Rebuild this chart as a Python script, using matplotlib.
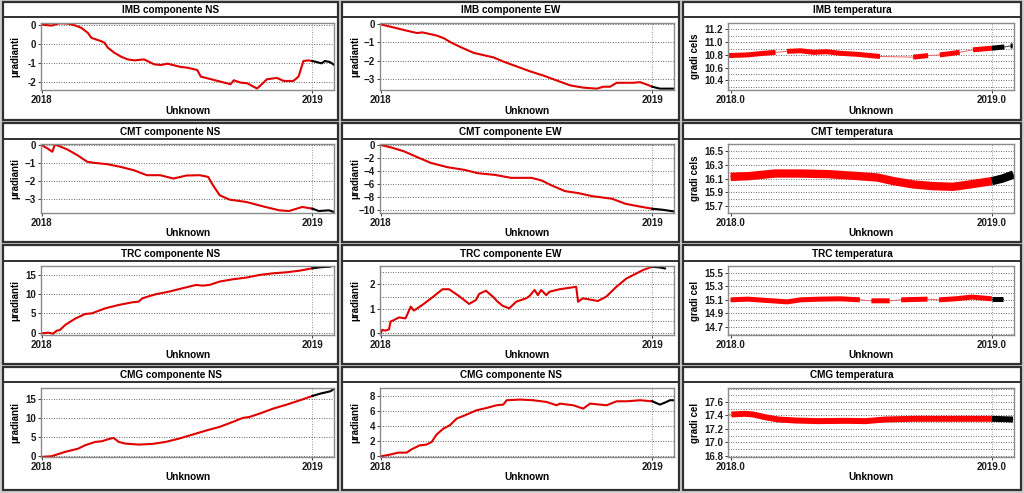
import numpy as np
import matplotlib
matplotlib.use('Agg')
import matplotlib.pyplot as plt
from matplotlib.patches import Rectangle
from matplotlib.lines import Line2D
from matplotlib import ticker

plt.rcParams['font.family'] = ['Liberation Sans', 'DejaVu Sans']
plt.rcParams['font.weight'] = 'bold'
nan = np.nan

# ---- data (years, values) ----
imb_ns_t = [2018.000, 2018.037, 2018.067, 2018.098, 2018.122, 2018.147, 2018.171, 2018.184, 2018.220, 2018.233,
            2018.245, 2018.269, 2018.294, 2018.318, 2018.343, 2018.379, 2018.416, 2018.441, 2018.465, 2018.490,
            2018.514, 2018.539, 2018.575, 2018.588, 2018.698, 2018.710, 2018.734, 2018.759, 2018.796, 2018.820,
            2018.832, 2018.869, 2018.894, 2018.930, 2018.949, 2018.967, 2018.985, 2019.000, 2019.016, 2019.034,
            2019.046, 2019.065, 2019.081]
imb_ns_v = [0.20, 0.169, 0.242, 0.231, 0.179, 0.096, -0.061, -0.217, -0.322, -0.374,
            -0.530, -0.687, -0.812, -0.896, -0.927, -0.896, -1.052, -1.073, -1.031, -1.083,
            -1.136, -1.157, -1.230, -1.438, -1.678, -1.553, -1.626, -1.647, -1.814, -1.626,
            -1.522, -1.480, -1.574, -1.574, -1.438, -0.948, -0.927, -0.948, -0.979, -1.021,
            -0.948, -0.979, -1.073]
imb_ns_ticks = [0.2, -0.4, -1.0, -1.6]
imb_ns_labels = ['0', '0', '-1', '-2']

imb_ew_t = [2018.000, 2018.024, 2018.049, 2018.098, 2018.135, 2018.153, 2018.171, 2018.208, 2018.233, 2018.257,
            2018.294, 2018.343, 2018.379, 2018.416, 2018.453, 2018.502, 2018.551, 2018.600, 2018.649, 2018.698,
            2018.747, 2018.796, 2018.820, 2018.845, 2018.869, 2018.930, 2018.955, 2018.979, 2019.000, 2019.028,
            2019.077]
imb_ew_v = [0.0, -0.089, -0.179, -0.357, -0.482, -0.446, -0.50, -0.625, -0.768, -0.982,
            -1.25, -1.571, -1.696, -1.821, -2.054, -2.321, -2.589, -2.821, -3.089, -3.357,
            -3.482, -3.536, -3.429, -3.429, -3.214, -3.214, -3.179, -3.304, -3.429, -3.536,
            -3.536]

imb_temp_t = [2017.994, 2018.064, 2018.127, 2018.172, 2018.194, 2018.216, 2018.267, 2018.318, 2018.368, 2018.419,
              2018.483, 2018.534, 2018.572, 2018.636, 2018.699, 2018.756, 2018.778, 2018.801, 2018.877, 2018.902,
              2018.928, 2019.000, 2019.048, 2019.062, 2019.072, 2019.080]
imb_temp_v = [10.79, 10.80, 10.825, 10.84, nan, 10.855, 10.865, 10.84, 10.85, 10.825,
              10.81, 10.79, 10.775, nan, 10.765, 10.79, nan, 10.80, 10.84, nan,
              10.88, 10.905, 10.925, nan, 10.94, 10.94]

cmt_ns_t = [2018.000, 2018.022, 2018.040, 2018.049, 2018.065, 2018.095, 2018.132, 2018.169, 2018.193, 2018.242,
            2018.291, 2018.340, 2018.389, 2018.438, 2018.487, 2018.535, 2018.584, 2018.615, 2018.633, 2018.658,
            2018.694, 2018.756, 2018.817, 2018.878, 2018.914, 2018.963, 2019.000, 2019.024, 2019.061, 2019.077]
cmt_ns_v = [0.0, -0.186, -0.372, 0.04, -0.056, -0.242, -0.559, -0.931, -0.987, -1.061,
            -1.210, -1.397, -1.676, -1.676, -1.862, -1.695, -1.676, -1.769, -2.235, -2.793,
            -3.035, -3.166, -3.408, -3.631, -3.669, -3.445, -3.538, -3.669, -3.631, -3.706]

cmt_ew_t = [2018.000, 2018.037, 2018.086, 2018.136, 2018.185, 2018.247, 2018.309, 2018.358, 2018.420, 2018.481,
            2018.556, 2018.593, 2018.630, 2018.679, 2018.728, 2018.778, 2018.852, 2018.901, 2018.951, 2019.000,
            2019.037, 2019.078]
cmt_ew_v = [0.0, -0.355, -0.964, -1.878, -2.741, -3.401, -3.807, -4.315, -4.569, -5.025,
            -5.025, -5.431, -6.193, -7.056, -7.360, -7.817, -8.223, -8.985, -9.391, -9.746,
            -9.898, -10.152]

cmt_temp_t = [2018.000, 2018.069, 2018.170, 2018.271, 2018.372, 2018.473, 2018.562, 2018.625, 2018.701, 2018.777,
              2018.852, 2018.915, 2019.000, 2019.042, 2019.083]
cmt_temp_v = [16.124, 16.134, 16.172, 16.172, 16.163, 16.139, 16.114, 16.061, 16.013, 15.989,
              15.980, 16.013, 16.061, 16.100, 16.158]

trc_ns_t = [2018.000, 2018.025, 2018.043, 2018.056, 2018.068, 2018.087, 2018.124, 2018.161, 2018.186, 2018.235,
            2018.285, 2018.335, 2018.359, 2018.372, 2018.421, 2018.471, 2018.520, 2018.570, 2018.595, 2018.620,
            2018.657, 2018.706, 2018.756, 2018.805, 2018.855, 2018.905, 2018.954, 2019.000, 2019.029, 2019.066]
trc_ns_v = [-0.17, 0.0, -0.26, 0.52, 0.69, 1.99, 3.64, 4.85, 5.02, 6.32,
            7.19, 7.88, 8.05, 8.92, 9.96, 10.65, 11.52, 12.38, 12.21, 12.38,
            13.25, 13.85, 14.29, 14.98, 15.41, 15.67, 16.10, 16.71, 16.97, 17.14]

trc_ew_t = [2018.000, 2018.006, 2018.018, 2018.031, 2018.037, 2018.049, 2018.068, 2018.092, 2018.111, 2018.123,
            2018.154, 2018.191, 2018.228, 2018.252, 2018.289, 2018.326, 2018.351, 2018.363, 2018.388, 2018.413,
            2018.431, 2018.450, 2018.474, 2018.499, 2018.536, 2018.548, 2018.567, 2018.579, 2018.591, 2018.610,
            2018.622, 2018.659, 2018.708, 2018.720, 2018.727, 2018.745, 2018.800, 2018.831, 2018.868, 2018.905,
            2018.930, 2018.967, 2019.000, 2019.028, 2019.047]
trc_ew_v = [-0.03, 0.14, 0.11, 0.16, 0.48, 0.54, 0.65, 0.61, 1.09, 0.93,
            1.16, 1.47, 1.80, 1.80, 1.52, 1.20, 1.36, 1.61, 1.74, 1.50,
            1.29, 1.12, 1.02, 1.29, 1.43, 1.52, 1.77, 1.56, 1.77, 1.56,
            1.70, 1.80, 1.88, 1.90, 1.29, 1.43, 1.32, 1.50, 1.90, 2.24,
            2.38, 2.59, 2.72, 2.69, 2.65]

trc_temp_t = [2018.000, 2018.066, 2018.141, 2018.217, 2018.268, 2018.343, 2018.419, 2018.495, 2018.517, 2018.539,
              2018.609, 2018.631, 2018.653, 2018.754, 2018.776, 2018.798, 2018.861, 2018.924, 2019.000, 2019.044]
trc_temp_v = [15.10, 15.11, 15.09, 15.07, 15.10, 15.11, 15.115, 15.10, nan, 15.085,
              15.085, nan, 15.10, 15.11, nan, 15.10, 15.115, 15.14, 15.115, 15.115]

cmg_ns_t = [2018.000, 2018.037, 2018.087, 2018.136, 2018.161, 2018.198, 2018.223, 2018.254, 2018.266, 2018.285,
            2018.310, 2018.359, 2018.409, 2018.458, 2018.508, 2018.558, 2018.607, 2018.657, 2018.706, 2018.743,
            2018.768, 2018.805, 2018.855, 2018.905, 2018.954, 2019.000, 2019.029, 2019.066, 2019.082]
cmg_ns_v = [-0.17, 0.0, 1.13, 1.99, 2.86, 3.72, 3.90, 4.59, 4.76, 3.72,
            3.29, 3.03, 3.20, 3.72, 4.59, 5.63, 6.67, 7.62, 8.92, 9.96,
            10.22, 11.08, 12.38, 13.42, 14.55, 15.67, 16.28, 16.88, 17.58]

cmg_ew_t = [2018.000, 2018.034, 2018.065, 2018.096, 2018.114, 2018.145, 2018.169, 2018.188, 2018.206, 2018.231,
            2018.255, 2018.280, 2018.317, 2018.353, 2018.390, 2018.427, 2018.452, 2018.464, 2018.513, 2018.562,
            2018.611, 2018.648, 2018.660, 2018.709, 2018.746, 2018.771, 2018.807, 2018.832, 2018.869, 2018.906,
            2018.955, 2019.000, 2019.028, 2019.047, 2019.065, 2019.081]
cmg_ew_v = [0.0, 0.22, 0.49, 0.49, 0.93, 1.47, 1.56, 1.91, 2.89, 3.69,
            4.13, 5.02, 5.56, 6.13, 6.44, 6.80, 6.89, 7.47, 7.56, 7.47,
            7.24, 6.80, 7.02, 6.80, 6.36, 7.02, 6.89, 6.80, 7.33, 7.33,
            7.47, 7.33, 6.89, 7.16, 7.47, 7.47]

cmg_temp_t = [2018.003, 2018.054, 2018.086, 2018.131, 2018.182, 2018.246, 2018.336, 2018.439, 2018.516, 2018.593,
              2018.696, 2018.824, 2019.000, 2019.081]
cmg_temp_v = [17.415, 17.425, 17.415, 17.375, 17.34, 17.325, 17.315, 17.32, 17.315, 17.34,
              17.35, 17.35, 17.35, 17.34]
cmg_temp_lead_t = [2017.977, 2018.003]
cmg_temp_lead_v = [17.40, 17.415]

# ---- layout (pixels, top-left origin) ----
W, H = 1024, 493
fig = plt.figure(figsize=(W / 100, H / 100), dpi=100, facecolor='#cfcfcf')

BOX_X = [(3, 338), (342, 679), (683, 1021)]
BOX_Y = [(2, 120), (123, 242), (245, 364), (367, 490)]
TITLE_Y = [10, 132, 254, 375]
DIV_Y = [17, 139, 261, 382]
XLAB_Y = [111, 233, 355, 477]
COL_AX = [(41, 334), (380, 674), (728, 1014)]
ROW_AX = [(23, 90), (144, 213), (266, 335), (388, 457)]
YLAB_X = [15, 355, 695]


def fx(x):
    return x / W


def fy(y):
    return 1 - y / H


for r in range(4):
    for c in range(3):
        x0, x1 = BOX_X[c]
        y0, y1 = BOX_Y[r]
        fig.add_artist(Rectangle((fx(x0), fy(y1)), (x1 - x0) / W, (y1 - y0) / H, transform=fig.transFigure,
                                 facecolor='white', edgecolor='#303030', lw=1.6, zorder=-2))
        fig.add_artist(Line2D([fx(x0), fx(x1)], [fy(DIV_Y[r])] * 2, transform=fig.transFigure,
                              color='#303030', lw=1.4, zorder=-1))

panels = [
    (0, 0, 'IMB componente NS', imb_ns_t, imb_ns_v, (-1.86, 0.25), imb_ns_ticks, imb_ns_labels, None, 'μradianti', 0),
    (0, 1, 'IMB componente EW', imb_ew_t, imb_ew_v, (-3.61, 0.07), [0, -1, -2, -3], None, None, 'μradianti', 0),
    (0, 2, 'IMB temperatura', imb_temp_t, imb_temp_v, (10.25, 11.3), list(np.arange(10.4, 11.21, 0.2)), None, 0.1, 'gradi cels', 3.6),
    (1, 0, 'CMT componente NS', cmt_ns_t, cmt_ns_v, (-3.78, 0.06), [0, -1, -2, -3], None, None, 'μradianti', 0),
    (1, 1, 'CMT componente EW', cmt_ew_t, cmt_ew_v, (-10.4, 0.15), [0, -2, -4, -6, -8, -10], None, None, 'μradianti', 0),
    (1, 2, 'CMT temperatura', cmt_temp_t, cmt_temp_v, (15.6, 16.6), list(np.arange(15.7, 16.51, 0.2)), None, 0.1, 'gradi cels', 6.0),
    (2, 0, 'TRC componente NS', trc_ns_t, trc_ns_v, (-0.6, 17.3), [0, 5, 10, 15], None, None, 'μradianti', 0),
    (2, 1, 'TRC componente EW', trc_ew_t, trc_ew_v, (-0.07, 2.75), [0, 1, 2], None, 0.5, 'μradianti', 0),
    (2, 2, 'TRC temperatura', trc_temp_t, trc_temp_v, (14.58, 15.6), list(np.arange(14.7, 15.51, 0.2)), None, 0.1, 'gradi cel', 3.6),
    (3, 0, 'CMG componente NS', cmg_ns_t, cmg_ns_v, (-0.2, 17.75), [0, 5, 10, 15], None, None, 'μradianti', 0),
    (3, 1, 'CMG componente NS', cmg_ew_t, cmg_ew_v, (-0.09, 9.1), [0, 2, 4, 6, 8], None, None, 'μradianti', 0),
    (3, 2, 'CMG temperatura', cmg_temp_t, cmg_temp_v, (16.78, 17.81), list(np.arange(16.8, 17.61, 0.2)), None, 0.1, 'gradi cel', 4.3),
]

for r, c, title, t, v, ylim, yt, ylabels, minor, ylab, band in panels:
    l, rr = COL_AX[c]
    top, bot = ROW_AX[r]
    ax = fig.add_axes([fx(l), fy(bot), (rr - l) / W, (bot - top) / H])
    t = np.array(t)
    v = np.array(v, dtype=float)
    red = t <= 2019.0
    blk = t >= 2019.0
    if band:
        ok = ~np.isnan(v)
        ax.plot(t[red & ok], v[red & ok], color='#e86060', lw=0.7)
        ax.plot(t[blk & ok], v[blk & ok], color='#404040', lw=0.7)
        ax.plot(t[red], v[red], color='#ff0000', lw=band, solid_capstyle='butt')
        ax.plot(t[blk], v[blk], color='black', lw=band, solid_capstyle='butt')
        if c == 2 and r == 3:
            ax.plot(cmg_temp_lead_t, cmg_temp_lead_v, color='#d08040', lw=0.8)
        ax.set_xlim(2017.99, 2019.085)
        ax.set_xticks([2018, 2019])
        ax.set_xticklabels(['2018.0', '2019.0'])
        ax.yaxis.set_major_formatter(ticker.FormatStrFormatter('%.1f'))
    else:
        ax.plot(t[red], v[red], color='#e00000', lw=1.5)
        ax.plot(t[blk], v[blk], color='black', lw=1.5)
        ax.set_xlim(2017.998, 2019.08)
        ax.set_xticks([2018, 2019])
        ax.set_xticklabels(['2018', '2019'])
    ax.set_ylim(*ylim)
    ax.set_yticks(yt)
    if ylabels is not None:
        ax.set_yticklabels(ylabels)
    if minor:
        ax.yaxis.set_minor_locator(ticker.MultipleLocator(minor))
        ax.tick_params(axis='y', which='minor', length=0)
    ax.yaxis.grid(True, which='both', ls=(0, (1.2, 1.8)), color='#555555', lw=0.6)
    ax.axvline(2019, ls=(0, (1.2, 1.8)), color='#888888', lw=0.6, zorder=0)
    ax.set_axisbelow(True)
    for s in ax.spines.values():
        s.set_color('#8a8a8a')
        s.set_linewidth(1.0)
    ax.tick_params(axis='both', which='major', length=2, width=0.6, pad=1.5, labelsize=7, colors='#1a1a1a')
    for lab in ax.get_xticklabels() + ax.get_yticklabels():
        lab.set_fontweight('bold')

    cx = (BOX_X[c][0] + BOX_X[c][1]) / 2
    fig.text(fx(cx), fy(TITLE_Y[r]), title, ha='center', va='center', fontsize=7.2, fontweight='bold')
    fig.text(fx((l + rr) / 2), fy(XLAB_Y[r]), 'Unknown', ha='center', va='center', fontsize=7.2, fontweight='bold')
    fig.text(fx(YLAB_X[c]), fy((top + bot) / 2), ylab, ha='center', va='center', rotation=90,
             fontsize=7, fontweight='bold')

fig.savefig('out.png', dpi=100, facecolor=fig.get_facecolor())
